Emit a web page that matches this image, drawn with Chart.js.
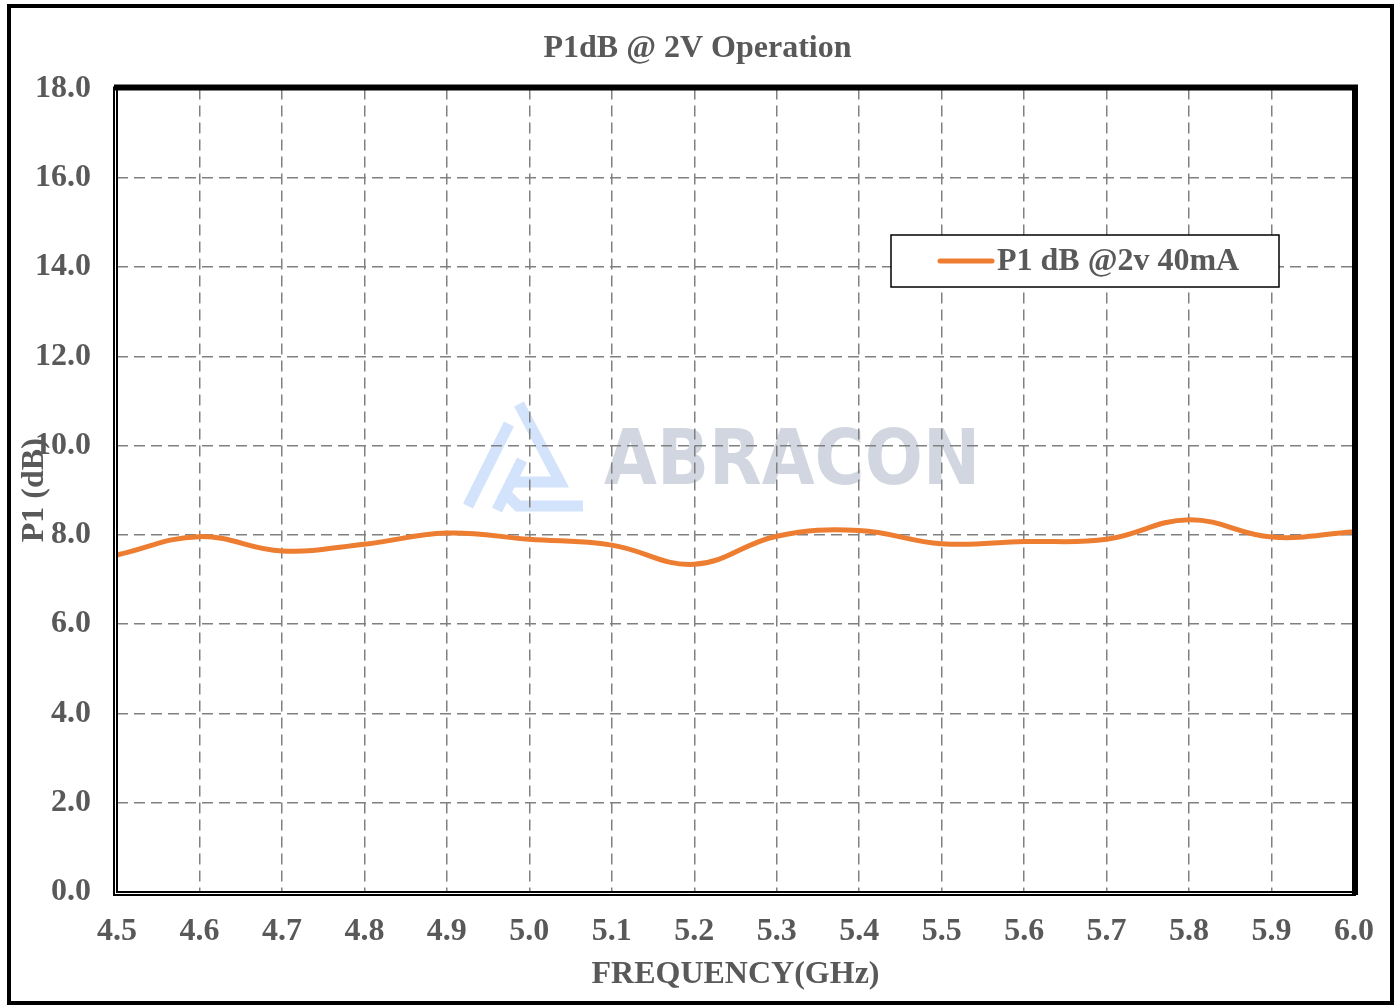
<!DOCTYPE html>
<html>
<head>
<meta charset="utf-8">
<title>P1dB @ 2V Operation</title>
<script src="https://cdn.jsdelivr.net/npm/chart.js@4.4.1/dist/chart.umd.min.js"></script>
<style>
    html, body { margin: 0; padding: 0; background: #fff; }
    #wrap { width: 1395px; height: 1007px; position: relative; }
</style>
</head>
<body>
<div id="wrap"><canvas id="lineChart"></canvas></div>
<script>
// frequency points (GHz) and P1dB readings (dB)
var freqGHz = [4.5, 4.6, 4.7, 4.8, 4.9, 5.0, 5.1, 5.2, 5.3, 5.4, 5.5, 5.6, 5.7, 5.8, 5.9, 6.0];
var p1dB = [7.55, 7.96, 7.64, 7.79, 8.04, 7.9, 7.77, 7.34, 7.97, 8.1, 7.8, 7.85, 7.9, 8.34, 7.95, 8.07];
var seriesLabel = 'P1 dB @2v 40mA';
var chartTitle = 'P1dB @ 2V Operation';
var xTitle = 'FREQUENCY(GHz)';
var yTitle = 'P1 (dB)';

var grey = '#595959';
var orange = '#ED7D31';
var serif = '"Liberation Serif", "Times New Roman", serif';

var pageDecor = {
    id: 'pageDecor',
    beforeDraw: function (chart) {
        var ctx = chart.ctx;
        ctx.save();
        ctx.fillStyle = '#fff';
        ctx.fillRect(0, 0, chart.width, chart.height);
        // outer frame
        ctx.strokeStyle = '#000';
        ctx.lineWidth = 4;
        ctx.strokeRect(9, 6, 1383, 997);

        // watermark logo
        ctx.strokeStyle = '#D2E3FB';
        ctx.lineWidth = 11;
        ctx.lineJoin = 'miter';
        ctx.beginPath();
        ctx.moveTo(509, 424);
        ctx.lineTo(468, 506);
        ctx.stroke();
        ctx.beginPath();
        ctx.moveTo(519, 404);
        ctx.lineTo(560, 482);
        ctx.lineTo(508, 482);
        ctx.stroke();
        ctx.beginPath();
        ctx.moveTo(522, 460);
        ctx.lineTo(497, 510);
        ctx.stroke();
        ctx.beginPath();
        ctx.moveTo(508, 496);
        ctx.lineTo(518, 506);
        ctx.lineTo(583, 506);
        ctx.stroke();

        // watermark text
        ctx.fillStyle = '#D1D6E1';
        ctx.font = 'bold 76px "DejaVu Sans Condensed", "DejaVu Sans", sans-serif';
        ctx.textBaseline = 'alphabetic';
        ctx.textAlign = 'left';
        ctx.fillText('ABRACON', 604, 484);
        ctx.restore();
    },
    afterDraw: function (chart) {
        var ctx = chart.ctx;
        var a = chart.chartArea;
        ctx.save();
        // plot area border
        ctx.strokeStyle = '#000';
        ctx.lineWidth = 2;
        ctx.strokeRect(a.left, a.top, a.right - a.left, a.bottom - a.top);
        ctx.beginPath();
        ctx.moveTo(a.left - 3, a.top - 2);
        ctx.lineTo(a.left - 3, a.bottom + 3);
        ctx.lineTo(a.right + 2, a.bottom + 3);
        ctx.stroke();
        ctx.lineWidth = 6;
        ctx.beginPath();
        ctx.moveTo(a.left - 3, a.top - 1);
        ctx.lineTo(a.right + 1, a.top - 1);
        ctx.lineTo(a.right + 1, a.bottom + 3);
        ctx.stroke();

        // legend box
        ctx.fillStyle = '#fff';
        ctx.fillRect(891, 235, 388, 52);
        ctx.lineWidth = 1.5;
        ctx.strokeRect(891, 235, 388, 52);
        ctx.strokeStyle = orange;
        ctx.lineWidth = 5;
        ctx.lineCap = 'round';
        ctx.beginPath();
        ctx.moveTo(940, 261);
        ctx.lineTo(992, 261);
        ctx.stroke();
        ctx.fillStyle = grey;
        ctx.font = 'bold 32px ' + serif;
        ctx.textBaseline = 'middle';
        ctx.textAlign = 'left';
        ctx.fillText(chart.data.datasets[0].label, 997, 262);
        ctx.restore();
    }
};

var points = [];
for (var i = 0; i < freqGHz.length; i++) {
    points.push({ x: freqGHz[i], y: p1dB[i] });
}

var gridStyle = {
    color: '#808080',
    lineWidth: 1.5,
    drawTicks: false
};
var dashBorder = { display: false, dash: [11, 6] };

var ctx = document.getElementById('lineChart').getContext('2d');
new Chart(ctx, {
    type: 'line',
    data: {
        datasets: [{
            label: seriesLabel,
            data: points,
            borderColor: orange,
            backgroundColor: orange,
            borderWidth: 5,
            pointRadius: 0,
            tension: 0.4,
            fill: false
        }]
    },
    options: {
        responsive: true,
        maintainAspectRatio: false,
        animation: false,
        layout: { padding: { left: 0, right: 0, top: 0, bottom: 13 } },
        plugins: {
            legend: { display: false },
            tooltip: { enabled: false },
            title: {
                display: true,
                text: chartTitle,
                color: grey,
                font: { family: serif, size: 32, weight: 'bold', lineHeight: 1.2 },
                padding: { top: 30, bottom: 20 }
            }
        },
        scales: {
            x: {
                type: 'linear',
                min: 4.5,
                max: 6.0,
                grid: gridStyle,
                border: dashBorder,
                afterFit: function (scale) { scale.height = 102; },
                ticks: {
                    stepSize: 0.1,
                    padding: 21,
                    color: grey,
                    maxRotation: 0,
                    autoSkip: false,
                    font: { family: serif, size: 32, weight: 'bold' },
                    callback: function (v) { return Number(v).toFixed(1); }
                },
                title: {
                    display: true,
                    text: xTitle,
                    color: grey,
                    font: { family: serif, size: 32, weight: 'bold', lineHeight: 1.2 },
                    padding: { top: 0, bottom: 0 }
                }
            },
            y: {
                min: 0,
                max: 18,
                grid: gridStyle,
                border: dashBorder,
                afterFit: function (scale) { scale.width = 117; },
                ticks: {
                    stepSize: 2,
                    padding: 26,
                    color: grey,
                    font: { family: serif, size: 32, weight: 'bold' },
                    callback: function (v) { return Number(v).toFixed(1); }
                },
                title: {
                    display: true,
                    text: yTitle,
                    color: grey,
                    font: { family: serif, size: 32, weight: 'bold', lineHeight: 1.2 },
                    padding: { top: 16, bottom: 0 }
                }
            },
            // empty right-hand gutter so the title stays centred on the page
            yRight: {
                position: 'right',
                min: 0,
                max: 18,
                grid: { display: false },
                border: { display: false },
                ticks: { display: false },
                afterFit: function (scale) { scale.width = 39; }
            }
        }
    },
    plugins: [pageDecor]
});
</script>
</body>
</html>
